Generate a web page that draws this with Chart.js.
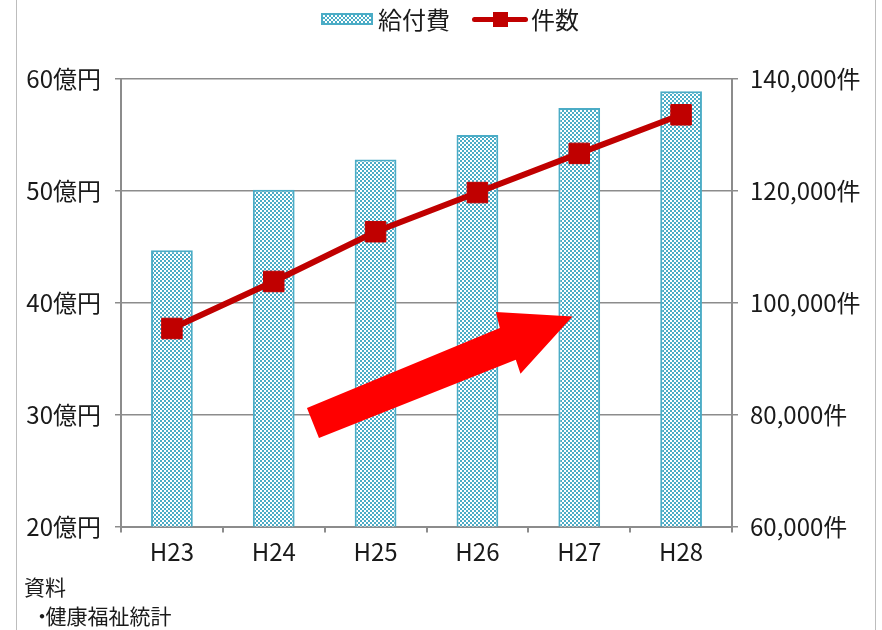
<!DOCTYPE html>
<html lang="ja">
<head>
<meta charset="utf-8">
<title>給付費と件数の推移</title>
<script src="https://cdn.jsdelivr.net/npm/chart.js@4/dist/chart.umd.min.js"></script>
<style>
  html, body { margin: 0; padding: 0; background: #fff; }
  #wrap { position: relative; width: 882px; height: 630px; overflow: hidden;
          font-family: 'Noto Sans CJK JP', sans-serif; color: #1a1a1a; }
  #chart { position: absolute; left: 0; top: 0; }
  .frame { position: absolute; top: 0; width: 1px; height: 630px; background: #bdbdbd; }
  .legend { position: absolute; top: 0; left: 0; width: 882px; height: 40px; }
  .swatch-bar { position: absolute; left: 321px; top: 13px; width: 52px; height: 12px;
                box-sizing: border-box; border: 2px solid #4bacc6;
                background-color: #fff;
                background-image: conic-gradient(#4bacc6 25%, #fff 0 50%, #4bacc6 0 75%, #fff 0);
                background-size: 4px 4px; }
  .swatch-line { position: absolute; left: 472px; top: 16.5px; width: 56px; height: 5px;
                 background: #c00000; border-radius: 3px; }
  .swatch-mark { position: absolute; left: 493px; top: 12px; width: 15px; height: 15px; background: #c00000; }
  .legend-text { position: absolute; top: 7px; font-size: 24px; line-height: 24px; white-space: nowrap; }
  .note { position: absolute; left: 24px; font-size: 21px; line-height: 21px; white-space: nowrap; }
  .dot { display: inline-block; padding-left: 7.5px; margin-right: -7px; }
</style>
</head>
<body>
<div id="wrap">
  <div class="frame" style="left:16px"></div>
  <div class="frame" style="left:875px"></div>
  <canvas id="chart" width="882" height="630"></canvas>
  <div class="legend">
    <div class="swatch-bar"></div>
    <div class="legend-text" style="left:378px">給付費</div>
    <div class="swatch-line"></div>
    <div class="swatch-mark"></div>
    <div class="legend-text" style="left:531px">件数</div>
  </div>
  <div class="note" style="top:576px">資料</div>
  <div class="note" style="top:605px"><span class="dot">・</span>健康福祉統計</div>
</div>
<script>
// 年度
const categories = ['H23', 'H24', 'H25', 'H26', 'H27', 'H28'];
// 給付費（億円）
const benefitCost = [44.7, 50.1, 52.8, 55.0, 57.4, 58.9];
// 件数（件）
const caseCount = [95400, 103800, 112700, 119700, 126700, 133600];

// 軸の範囲
const costAxis = { min: 20, max: 60, step: 10 };
const countAxis = { min: 60000, max: 140000, step: 20000 };

// 右上がりの矢印（x: 年度の位置, y: 億円の目盛り）
const arrowPath = [
  [1.326, 30.60], [3.220, 37.74], [3.181, 39.17], [3.934, 38.78],
  [3.423, 33.66], [3.377, 34.91], [1.444, 27.92]
];

const TEAL = '#4bacc6';
const RED = '#c00000';
const GRID = '#8c8c8c';
const FONT = "'Noto Sans CJK JP', sans-serif";

// 市松模様の塗り
function checkerPattern() {
  const c = document.createElement('canvas');
  c.width = 4; c.height = 4;
  const g = c.getContext('2d');
  g.fillStyle = '#ffffff'; g.fillRect(0, 0, 4, 4);
  g.fillStyle = TEAL;
  g.fillRect(0, 0, 2, 2);
  g.fillRect(2, 2, 2, 2);
  return g.createPattern(c, 'repeat');
}

const arrowPlugin = {
  id: 'trendArrow',
  afterDatasetsDraw(chart) {
    const x = chart.scales.x, y = chart.scales.y;
    const x0 = x.getPixelForValue(0), dx = x.getPixelForValue(1) - x0;
    const ctx = chart.ctx;
    ctx.save();
    ctx.beginPath();
    arrowPath.forEach(([i, v], k) => {
      const px = x0 + i * dx, py = y.getPixelForValue(v);
      if (k === 0) ctx.moveTo(px, py); else ctx.lineTo(px, py);
    });
    ctx.closePath();
    ctx.fillStyle = '#ff0000';
    ctx.fill();
    ctx.restore();
  }
};

new Chart(document.getElementById('chart'), {
  data: {
    labels: categories,
    datasets: [
      {
        type: 'line',
        label: '件数',
        data: caseCount,
        yAxisID: 'y1',
        order: 1,
        borderColor: RED,
        borderWidth: 6,
        tension: 0,
        pointStyle: 'rect',
        pointRadius: 14.5,
        pointBorderWidth: 1,
        pointBackgroundColor: RED,
        pointBorderColor: RED
      },
      {
        type: 'bar',
        label: '給付費',
        data: benefitCost,
        yAxisID: 'y',
        order: 2,
        backgroundColor: checkerPattern(),
        borderColor: TEAL,
        borderWidth: 2,
        barPercentage: 0.41,
        categoryPercentage: 1
      }
    ]
  },
  options: {
    responsive: false,
    animation: false,
    layout: { padding: { top: 79, bottom: 63.5, left: 0, right: 0 } },
    plugins: {
      legend: { display: false },
      tooltip: { enabled: false }
    },
    scales: {
      x: {
        grid: { offset: true, drawOnChartArea: false, drawTicks: true, tickLength: 6, color: GRID, lineWidth: 2 },
        border: { color: GRID, width: 2 },
        ticks: { color: '#1a1a1a', font: { family: FONT, size: 24 }, padding: 5 },
        afterFit(scale) { scale.height = 40; }
      },
      y: {
        position: 'left',
        min: costAxis.min,
        max: costAxis.max,
        grid: { color: GRID, lineWidth: 1.5, tickLength: 6 },
        border: { color: GRID, width: 2 },
        ticks: {
          stepSize: costAxis.step,
          color: '#1a1a1a',
          font: { family: FONT, size: 24 },
          padding: 14,
          callback: (v) => v + '億円'
        },
        afterFit(scale) { scale.width = 121; }
      },
      y1: {
        position: 'right',
        min: countAxis.min,
        max: countAxis.max,
        grid: { drawOnChartArea: false, color: GRID, lineWidth: 1.5, tickLength: 6 },
        border: { color: GRID, width: 2 },
        ticks: {
          stepSize: countAxis.step,
          color: '#1a1a1a',
          font: { family: FONT, size: 24 },
          padding: 12,
          callback: (v) => v.toLocaleString('ja-JP') + '件'
        },
        afterFit(scale) { scale.width = 150; }
      }
    }
  },
  plugins: [arrowPlugin]
});
</script>
</body>
</html>
